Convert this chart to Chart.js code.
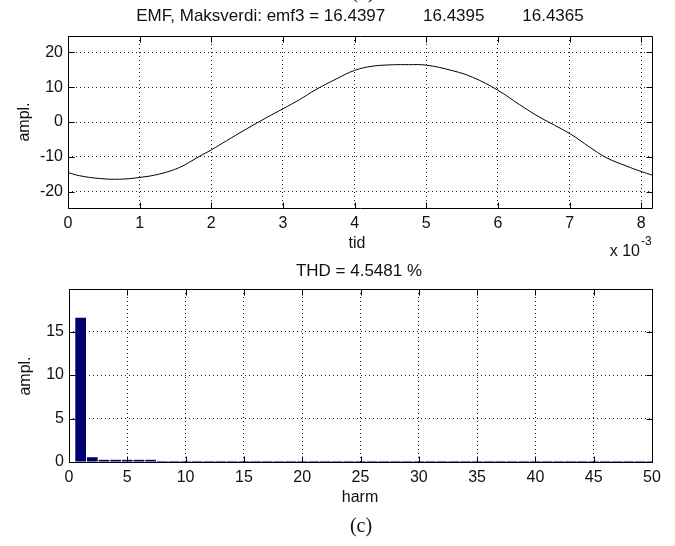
<!DOCTYPE html>
<html>
<head>
<meta charset="utf-8">
<script src="https://cdn.jsdelivr.net/npm/chart.js@4.4.1/dist/chart.umd.min.js"></script>
<style>
  html, body { margin: 0; padding: 0; background: #fff; }
  #wrap { position: relative; width: 675px; height: 546px; }
  #wrap canvas { position: absolute; left: 0; top: 0; }
</style>
</head>
<body>
<div id="wrap">
  <canvas id="emfChart" width="675" height="546"></canvas>
  <canvas id="harmChart" width="675" height="546"></canvas>
</div>
<script>
// emf3 over one electrical period
const tid = [0, 0.00016, 0.00044, 0.00072, 0.001, 0.00128, 0.00156, 0.00183, 0.002, 0.00221,
             0.00249, 0.00277, 0.003, 0.00323, 0.00346, 0.00374, 0.004, 0.00425, 0.00453, 0.00475,
             0.005, 0.00537, 0.00565, 0.006, 0.0063, 0.00658, 0.007, 0.00728, 0.00751, 0.00779,
             0.008, 0.00815];
const emf = [-14.5, -15.4, -16.2, -16.4, -15.9, -14.9, -13.0, -9.9, -8.0, -5.4,
             -2.0, 1.25, 3.8, 6.4, 9.3, 12.3, 14.8, 16.0, 16.4, 16.44,
             16.3, 14.7, 12.8, 9.1, 5.0, 1.4, -3.3, -7.2, -10.2, -12.6,
             -14.2, -15.2];
const emfMax = [16.4397, 16.4395, 16.4365];
const tidTicks = [0, 0.001, 0.002, 0.003, 0.004, 0.005, 0.006, 0.007, 0.008];
const emfTicks = [-20, -10, 0, 10, 20];

// harmonic spectrum
const harm = [1, 2, 3, 4, 5, 6, 7, 8, 9, 10, 11, 12, 13, 14, 15, 16, 17, 18, 19, 20, 21, 22, 23, 24, 25,
              26, 27, 28, 29, 30, 31, 32, 33, 34, 35, 36, 37, 38, 39, 40, 41, 42, 43, 44, 45, 46, 47, 48, 49, 50];
const harmAmpl = [16.6, 0.55, 0.25, 0.25, 0.25, 0.25, 0.25, 0.12, 0.12, 0.12,
                  0.12, 0.12, 0.12, 0.12, 0.12, 0.12, 0.12, 0.12, 0.12, 0.12,
                  0.12, 0.12, 0.12, 0.12, 0.12, 0.12, 0.12, 0.12, 0.12, 0.12,
                  0.12, 0.12, 0.12, 0.12, 0.12, 0.12, 0.12, 0.12, 0.12, 0.12,
                  0.12, 0.12, 0.12, 0.12, 0.12, 0.12, 0.12, 0.12, 0.12, 0.12];
const thd = 4.5481;
const harmTicks = [0, 5, 10, 15, 20, 25, 30, 35, 40, 45, 50];
const harmAmplTicks = [0, 5, 10, 15];

const FONT = '"Liberation Sans", Arial, sans-serif';
const SERIF = '"Liberation Serif", "Times New Roman", serif';

// box round the axes with short inward tick marks on all four sides
const frame = {
  id: 'frame',
  afterDatasetsDraw(chart) {
    const { ctx, chartArea: a, scales: { x, y } } = chart;
    const L = Math.round(a.left) + 0.5, R = Math.round(a.right) + 0.5;
    const T = Math.round(a.top) + 0.5, B = Math.round(a.bottom) + 0.5;
    ctx.save();
    ctx.strokeStyle = '#000';
    ctx.lineWidth = 1;
    ctx.beginPath();
    ctx.rect(L, T, R - L, B - T);
    x.ticks.forEach(t => {
      const px = Math.round(x.getPixelForValue(t.value)) + 0.5;
      ctx.moveTo(px, B); ctx.lineTo(px, B - 6);
      ctx.moveTo(px, T); ctx.lineTo(px, T + 6);
    });
    y.ticks.forEach(t => {
      const py = Math.round(y.getPixelForValue(t.value)) + 0.5;
      ctx.moveTo(L, py); ctx.lineTo(L + 6, py);
      ctx.moveTo(R, py); ctx.lineTo(R - 6, py);
    });
    ctx.stroke();
    ctx.restore();
  }
};

function textLayer(items) {
  return {
    id: 'textLayer',
    afterDraw(chart) {
      const ctx = chart.ctx;
      items.forEach(it => {
        ctx.save();
        ctx.font = it.font;
        ctx.fillStyle = '#111';
        ctx.textAlign = it.align || 'center';
        ctx.textBaseline = it.baseline || 'middle';
        ctx.translate(it.x, it.y);
        if (it.rotate) ctx.rotate(it.rotate);
        ctx.fillText(it.text, 0, 0);
        ctx.restore();
      });
    }
  };
}

function fixedTicks(values) {
  return axis => { axis.ticks = values.map(v => ({ value: v })); };
}

const gap = '        ';
const emfTitle = 'EMF, Maksverdi: emf3 = ' + emfMax.map(v => v.toFixed(4)).join(gap);

new Chart(document.getElementById('emfChart'), {
  type: 'line',
  data: {
    datasets: [{
      data: tid.map((t, i) => ({ x: t, y: emf[i] })),
      borderColor: '#000',
      borderWidth: 1,
      pointRadius: 0,
      tension: 0.4
    }]
  },
  options: {
    responsive: false,
    animation: false,
    layout: { padding: { top: 36, left: 0, right: 23, bottom: 308 } },
    plugins: { legend: { display: false }, tooltip: { enabled: false } },
    scales: {
      x: {
        type: 'linear',
        min: 0,
        max: 0.00815,
        afterBuildTicks: fixedTicks(tidTicks),
        afterFit: s => { s.height = 30; },
        grid: { color: '#222', drawTicks: false },
        border: { display: false, dash: [1, 3] },
        ticks: {
          padding: 6,
          color: '#111',
          font: { family: FONT, size: 16 },
          maxRotation: 0,
          autoSkip: false,
          callback: v => String(Math.round(v * 1000))
        }
      },
      y: {
        min: -24.66,
        max: 24.66,
        afterBuildTicks: fixedTicks(emfTicks),
        afterFit: s => { s.width = 68; },
        grid: { color: '#222', drawTicks: false },
        border: { display: false, dash: [1, 3] },
        ticks: { padding: 5, color: '#111', font: { family: FONT, size: 16 } }
      }
    }
  },
  plugins: [frame, textLayer([
    { text: '(b)', x: 363, y: 3, font: '20px ' + SERIF, baseline: 'bottom' },
    { text: emfTitle, x: 360, y: 16, font: '17px ' + FONT },
    { text: 'tid', x: 357, y: 244, font: '16px ' + FONT },
    { text: 'x 10', x: 640, y: 252, font: '16px ' + FONT, align: 'right' },
    { text: '-3', x: 641, y: 242, font: '12px ' + FONT, align: 'left' },
    { text: 'ampl.', x: 25, y: 122, font: '16px ' + FONT, rotate: -Math.PI / 2 }
  ])]
});

new Chart(document.getElementById('harmChart'), {
  type: 'bar',
  data: {
    datasets: [{
      data: harm.map((h, i) => ({ x: h, y: harmAmpl[i] })),
      backgroundColor: '#000070',
      borderWidth: 0,
      barPercentage: 0.92,
      categoryPercentage: 1
    }]
  },
  options: {
    responsive: false,
    animation: false,
    layout: { padding: { top: 289, left: 0, right: 23, bottom: 54 } },
    plugins: { legend: { display: false }, tooltip: { enabled: false } },
    scales: {
      x: {
        type: 'linear',
        offset: false,
        min: 0,
        max: 50,
        afterBuildTicks: fixedTicks(harmTicks),
        afterFit: s => { s.height = 30; },
        grid: { color: '#222', drawTicks: false, offset: false },
        border: { display: false, dash: [1, 3] },
        ticks: { padding: 6, color: '#111', font: { family: FONT, size: 16 }, maxRotation: 0, autoSkip: false }
      },
      y: {
        min: 0,
        max: 19.9,
        afterBuildTicks: fixedTicks(harmAmplTicks),
        afterFit: s => { s.width = 69; },
        grid: { color: '#222', drawTicks: false },
        border: { display: false, dash: [1, 3] },
        ticks: { padding: 5, color: '#111', font: { family: FONT, size: 16 } }
      }
    }
  },
  plugins: [frame, textLayer([
    { text: 'THD = ' + thd.toFixed(4) + ' %', x: 359, y: 271, font: '17px ' + FONT },
    { text: 'harm', x: 360, y: 498, font: '16px ' + FONT },
    { text: '(c)', x: 361, y: 527, font: '20px ' + SERIF },
    { text: 'ampl.', x: 26, y: 376, font: '16px ' + FONT, rotate: -Math.PI / 2 }
  ])]
});
</script>
</body>
</html>
